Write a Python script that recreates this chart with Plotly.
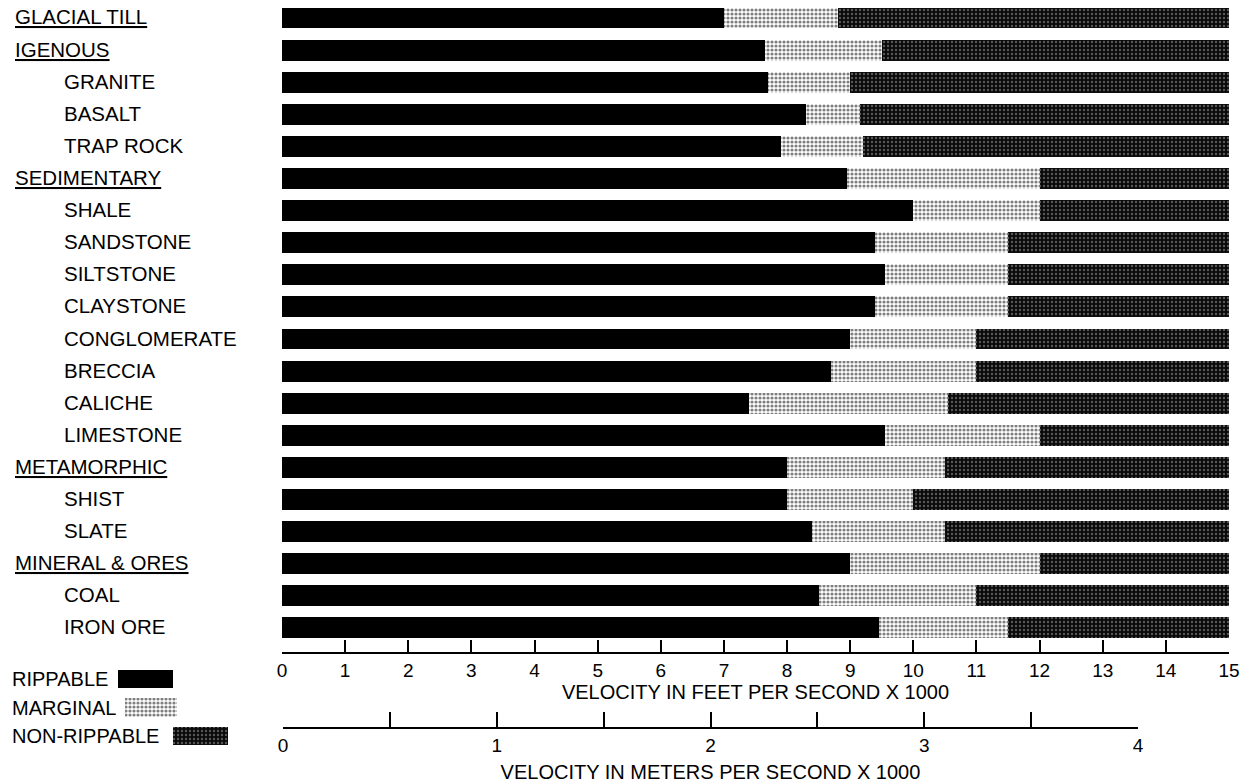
import plotly.graph_objects as go

# ---------------- data ----------------
rock_types = [
    "GLACIAL TILL", "IGENOUS", "GRANITE", "BASALT", "TRAP ROCK",
    "SEDIMENTARY", "SHALE", "SANDSTONE", "SILTSTONE", "CLAYSTONE",
    "CONGLOMERATE", "BRECCIA", "CALICHE", "LIMESTONE",
    "METAMORPHIC", "SHIST", "SLATE",
    "MINERAL & ORES", "COAL", "IRON ORE",
]
is_group_header = [
    True, True, False, False, False,
    True, False, False, False, False,
    False, False, False, False,
    True, False, False,
    True, False, False,
]
# upper velocity limit (ft/s x 1000) of the rippable zone
rippable_upper = [
    7.0, 7.65, 7.7, 8.3, 7.9,
    8.95, 10.0, 9.4, 9.55, 9.4,
    9.0, 8.7, 7.4, 9.55,
    8.0, 8.0, 8.4,
    9.0, 8.5, 9.45,
]
# upper velocity limit (ft/s x 1000) of the marginal zone
marginal_upper = [
    8.8, 9.5, 9.0, 9.15, 9.2,
    12.0, 12.0, 11.5, 11.5, 11.5,
    11.0, 11.0, 10.55, 12.0,
    10.5, 10.0, 10.5,
    12.0, 11.0, 11.5,
]
scale_max_fps = 15.0
fps_ticks = list(range(0, 16))
mps_ticks = [0, 0.5, 1, 1.5, 2, 2.5, 3, 3.5, 4]
mps_tick_labels = ["0", "", "1", "", "2", "", "3", "", "4"]
series_names = ["RIPPABLE", "MARGINAL", "NON-RIPPABLE"]

# ---------------- styling ----------------
PAGE_OFF = 8            # default body margin of the html page
W, H = 1248 - PAGE_OFF, 783 - PAGE_OFF
FONT = "Liberation Sans, Arial, Helvetica, sans-serif"

def fx(px):
    return (px - PAGE_OFF) / W

def fy(px):
    return 1 - (px - PAGE_OFF) / H

marginal_pattern = dict(shape=".", fgcolor="#000000", bgcolor="#ffffff",
                        size=4, solidity=0.5)
nonrip_pattern = dict(shape=".", fgcolor="#a8a8a8", bgcolor="#0a0a0a",
                      size=4, solidity=0.28)

seg_rip = rippable_upper
seg_marg = [m - r for m, r in zip(marginal_upper, rippable_upper)]
seg_non = [scale_max_fps - m for m in marginal_upper]

fig = go.Figure()
fig.add_bar(y=rock_types, x=seg_rip, orientation="h", name=series_names[0],
            marker=dict(color="#000000", line=dict(width=0)), hoverinfo="x+y")
fig.add_bar(y=rock_types, x=seg_marg, orientation="h", name=series_names[1],
            marker=dict(color="#ffffff", line=dict(width=0), pattern=marginal_pattern))
fig.add_bar(y=rock_types, x=seg_non, orientation="h", name=series_names[2],
            marker=dict(color="#0a0a0a", line=dict(width=0), pattern=nonrip_pattern))

# invisible trace to realise the metric scale axis
fig.add_scatter(x=[mps_ticks[0], mps_ticks[-1]], y=[0, 0], xaxis="x2", yaxis="y2",
                mode="markers", marker=dict(opacity=0), hoverinfo="skip",
                showlegend=False)

# legend key (text followed by swatch) drawn as a small bar panel
legend_swatch_start = [118, 125, 173]
legend_swatch_width = [55, 52, 55]
legend_patterns = [None, marginal_pattern, nonrip_pattern]
legend_colors = ["#000000", "#ffffff", "#0a0a0a"]
for name, b, w, pat, col in zip(series_names, legend_swatch_start,
                                legend_swatch_width, legend_patterns, legend_colors):
    mk = dict(color=col, line=dict(width=0))
    if pat:
        mk["pattern"] = pat
    fig.add_bar(y=[name], x=[w], base=[b - PAGE_OFF], orientation="h",
                xaxis="x3", yaxis="y3", marker=mk, showlegend=False,
                hoverinfo="skip")

annotations = []
for name, hdr in zip(rock_types, is_group_header):
    annotations.append(dict(
        text=name, xref="paper", yref="y", x=fx(13 if hdr else 62), y=name,
        xanchor="left", yanchor="middle", yshift=1, showarrow=False,
        font=dict(family=FONT, size=20.5, color="#000000",
                  lineposition="under" if hdr else "none"),
    ))
for name in series_names:
    annotations.append(dict(
        text=name, xref="x3", yref="y3", x=10 - PAGE_OFF, y=name, xanchor="left",
        yanchor="middle", showarrow=False,
        font=dict(family=FONT, size=20, color="#000000"),
    ))

fig.update_layout(
    width=W, height=H, margin=dict(l=0, r=0, t=0, b=0, pad=0),
    paper_bgcolor="white", plot_bgcolor="white",
    barmode="stack", bargap=0.35, showlegend=False,
    font=dict(family=FONT, color="#000000"),
    annotations=annotations,
    xaxis=dict(
        domain=[fx(282), fx(1229)], range=[0, scale_max_fps], tickvals=fps_ticks,
        ticks="inside", ticklen=12, tickwidth=2, tickcolor="#000000",
        showline=True, linewidth=2, linecolor="#000000",
        showgrid=False, zeroline=False, automargin=False,
        tickfont=dict(size=19, family=FONT),
        title=dict(text="VELOCITY IN FEET PER SECOND X 1000",
                   font=dict(size=20, family=FONT), standoff=3),
        anchor="y",
    ),
    yaxis=dict(
        domain=[fy(652), 1.0], type="category", categoryarray=rock_types,
        range=[19.75, -0.56 + PAGE_OFF / 32.1], showticklabels=False,
        showgrid=False, zeroline=False, showline=False, ticks="",
        automargin=False,
    ),
    xaxis2=dict(
        domain=[fx(283), fx(1138)], range=[mps_ticks[0], mps_ticks[-1]],
        tickvals=mps_ticks, ticktext=mps_tick_labels,
        ticks="inside", ticklen=15, tickwidth=2, tickcolor="#000000",
        showline=True, linewidth=2, linecolor="#000000",
        showgrid=False, zeroline=False, automargin=False,
        tickfont=dict(size=19, family=FONT),
        title=dict(text="VELOCITY IN METERS PER SECOND X 1000",
                   font=dict(size=20, family=FONT), standoff=10),
        anchor="y2",
    ),
    yaxis2=dict(domain=[fy(727), fy(700)], visible=False, range=[-1, 1],
                fixedrange=True),
    xaxis3=dict(domain=[0, fx(250)], range=[0, 250 - PAGE_OFF], visible=False),
    yaxis3=dict(domain=[fy(750), fy(665)], type="category",
                categoryarray=series_names, range=[2.5, -0.5], visible=False),
)

fig.write_html("out.html")
